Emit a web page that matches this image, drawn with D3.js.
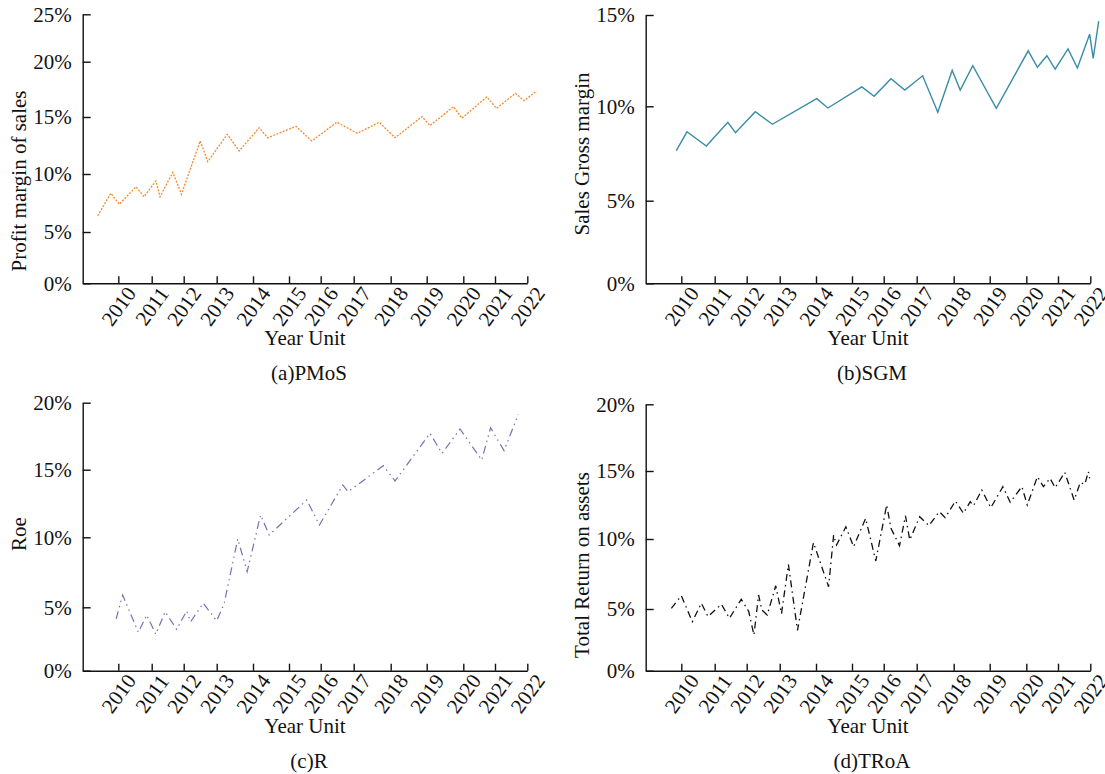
<!DOCTYPE html>
<html>
<head>
<meta charset="utf-8">
<script src="https://cdn.jsdelivr.net/npm/d3@7"></script>
<style>
  body { margin: 0; background: #fff; }
  svg text { font-family: "Liberation Serif", "Times New Roman", serif; fill: #111; }
</style>
</head>
<body>
<svg id="chart" width="1105" height="774"></svg>
<script>
// year ticks along the bottom
const years = [2009, 2010, 2011, 2012, 2013, 2014, 2015, 2016, 2017, 2018, 2019, 2020, 2021, 2022];
const yearLabels = years.slice(1);

// (a) profit margin of sales
const pmosT = [2009.42, 2009.79, 2010.03, 2010.53, 2010.77, 2011.13, 2011.26, 2011.66, 2011.93, 2012.50,
  2012.73, 2013.29, 2013.62, 2014.17, 2014.41, 2015.22, 2015.72, 2016.49, 2017.10, 2017.69,
  2018.12, 2018.87, 2019.09, 2019.73, 2019.96, 2020.74, 2021.05, 2021.63, 2021.90, 2022.29];
const pmosV = [6.4, 8.34, 7.39, 8.9, 8.04, 9.4, 8.04, 10.15, 8.25, 12.9,
  11.08, 13.48, 12.02, 14.06, 13.18, 14.18, 12.9, 14.54, 13.57, 14.54,
  13.18, 15.03, 14.25, 15.93, 14.89, 16.81, 15.79, 17.14, 16.47, 17.35];

// (b) sales gross margin
const sgmT = [2009.86, 2010.17, 2010.75, 2011.41, 2011.65, 2012.26, 2012.78, 2014.02, 2014.33, 2015.31,
  2015.70, 2016.22, 2016.64, 2017.16, 2017.57, 2017.96, 2018.18, 2018.53, 2019.18, 2020.06,
  2020.35, 2020.65, 2020.91, 2021.31, 2021.60, 2021.98, 2022.09, 2022.26];
const sgmV = [7.65, 8.65, 7.9, 9.15, 8.6, 9.71, 9.05, 10.42, 9.91, 11.06,
  10.55, 11.51, 10.89, 11.67, 9.68, 11.97, 10.89, 12.22, 9.89, 13.04,
  12.14, 12.77, 12.03, 13.14, 12.1, 13.95, 12.63, 14.67];

// (c) roe
const roeT = [2009.94, 2010.13, 2010.60, 2010.85, 2011.13, 2011.42, 2011.78, 2012.09, 2012.21, 2012.59,
  2013.00, 2013.20, 2013.58, 2013.84, 2014.21, 2014.45, 2015.56, 2015.96, 2016.67, 2016.83,
  2017.80, 2018.12, 2019.09, 2019.42, 2019.91, 2020.58, 2020.86, 2021.28, 2021.72];
const roeV = [4.08, 5.88, 3.03, 4.39, 2.87, 4.65, 3.26, 4.71, 3.86, 5.29,
  3.94, 5.21, 9.88, 7.54, 11.65, 10.17, 12.76, 10.91, 13.87, 13.37,
  15.3, 14.16, 17.72, 16.22, 18.04, 15.72, 18.13, 16.42, 19.13];

// (d) total return on assets
const troaT = [2009.72, 2010.00, 2010.33, 2010.60, 2010.80, 2011.21, 2011.46, 2011.83, 2012.06, 2012.22,
  2012.36, 2012.46, 2012.62, 2012.88, 2013.05, 2013.24, 2013.49, 2013.93, 2014.35, 2014.49,
  2014.57, 2014.83, 2015.05, 2015.43, 2015.75, 2016.09, 2016.22, 2016.48, 2016.66, 2016.79,
  2017.08, 2017.33, 2017.61, 2017.77, 2018.05, 2018.27, 2018.46, 2018.55, 2018.78, 2019.03,
  2019.36, 2019.56, 2019.88, 2020.03, 2020.35, 2020.54, 2020.75, 2020.91, 2021.21, 2021.50,
  2021.69, 2021.83, 2021.94, 2021.98];
const troaV = [5.05, 5.95, 3.97, 5.41, 4.38, 5.34, 4.25, 5.69, 4.81, 2.89,
  6.0, 4.92, 4.51, 6.66, 4.62, 8.19, 3.27, 9.74, 6.59, 10.29,
  9.57, 10.9, 9.45, 11.52, 8.43, 12.5, 10.79, 9.52, 11.71, 9.93,
  11.64, 10.98, 12.01, 11.57, 12.79, 11.89, 12.74, 12.45, 13.6, 12.3,
  13.85, 12.7, 13.85, 12.5, 14.58, 13.85, 14.46, 13.77, 14.9, 12.86,
  14.16, 14.02, 14.95, 14.46];

const yTicksA = [0, 5, 10, 15, 20, 25];
const yTicksB = [0, 5, 10, 15];
const yTicksC = [0, 5, 10, 15, 20];
const yTicksD = [0, 5, 10, 15, 20];

const svg = d3.select("#chart");

// tick positions along each x axis are not evenly spaced in the source
const xRangeLeft = [82.7, 118.3, 151.7, 183.7, 216.7, 253, 289, 320.7, 353.7, 390.7, 426.7, 463.3, 495, 527.3];
const xRangeRight = xRangeLeft.map(v => v + 563);

const panels = [
  { t: pmosT, v: pmosV, ticks: yTicksA, xr: xRangeLeft,
    yr: [283.3, 232, 174, 117, 61.7, 14.3], title: "Profit margin of sales", titleY: 181,
    caption: "(a)PMoS", color: "#f28a2e", width: 1.3, dash: "2,1.4" },
  { t: sgmT, v: sgmV, ticks: yTicksB, xr: xRangeRight,
    yr: [283.3, 200.7, 106.3, 15], title: "Sales Gross margin", titleY: 154,
    caption: "(b)SGM", color: "#3a8ca5", width: 1.4, dash: null },
  { t: roeT, v: roeV, ticks: yTicksC, xr: xRangeLeft,
    yr: [670.7, 607.3, 537.3, 469.7, 402.7], title: "Roe", titleY: 534,
    caption: "(c)R", color: "#7d6db4", width: 1.2, dash: "8,4,1.5,4,1.5,4" },
  { t: troaT, v: troaV, ticks: yTicksD, xr: xRangeRight,
    yr: [670.7, 609, 539, 471, 404.3], title: "Total Return on assets", titleY: 565,
    caption: "(d)TRoA", color: "#111", width: 1.3, dash: "7,4,1.5,4" }
];

panels.forEach(p => {
  const x = d3.scaleLinear().domain(years).range(p.xr);
  const y = d3.scaleLinear().domain(p.ticks).range(p.yr);
  const x0 = p.xr[0];
  const y0 = p.yr[0];
  const g = svg.append("g");

  // x axis, inward ticks
  const xAxis = g.append("g")
    .attr("transform", `translate(0,${y0})`)
    .call(d3.axisBottom(x).tickValues(yearLabels).tickFormat(d3.format("d"))
      .tickSizeInner(-7).tickSizeOuter(0));
  xAxis.selectAll("text")
    .attr("y", null).attr("dy", null)
    .attr("transform", "translate(0,23) rotate(-54)")
    .attr("text-anchor", "middle")
    .attr("dominant-baseline", "central")
    .style("font-size", "21px");

  // y axis, inward ticks
  const yAxis = g.append("g")
    .attr("transform", `translate(${x0},0)`)
    .call(d3.axisLeft(y).tickValues(p.ticks).tickFormat(d => d + "%")
      .tickSizeInner(-8).tickSizeOuter(0).tickPadding(11));
  yAxis.selectAll("text").style("font-size", "21px");

  g.selectAll(".domain, .tick line").attr("stroke", "#111").attr("stroke-width", 1.4);

  // the series
  const pts = p.t.map((t, i) => ({ t, v: p.v[i] }));
  g.append("path")
    .datum(pts)
    .attr("fill", "none")
    .attr("stroke", p.color)
    .attr("stroke-width", p.width)
    .attr("stroke-dasharray", p.dash)
    .attr("d", d3.line().x(d => x(d.t)).y(d => y(d.v)));

  const midX = (p.xr[0] + p.xr[p.xr.length - 1]) / 2;

  g.append("text")
    .attr("x", midX).attr("y", y0 + 62)
    .attr("text-anchor", "middle")
    .style("font-size", "21px")
    .text("Year Unit");

  g.append("text")
    .attr("x", midX + 4).attr("y", y0 + 97)
    .attr("text-anchor", "middle")
    .style("font-size", "21px")
    .text(p.caption);

  g.append("text")
    .attr("transform", `translate(${x0 - 57},${p.titleY}) rotate(-90)`)
    .attr("text-anchor", "middle")
    .style("font-size", "21px")
    .text(p.title);
});
</script>
</body>
</html>
